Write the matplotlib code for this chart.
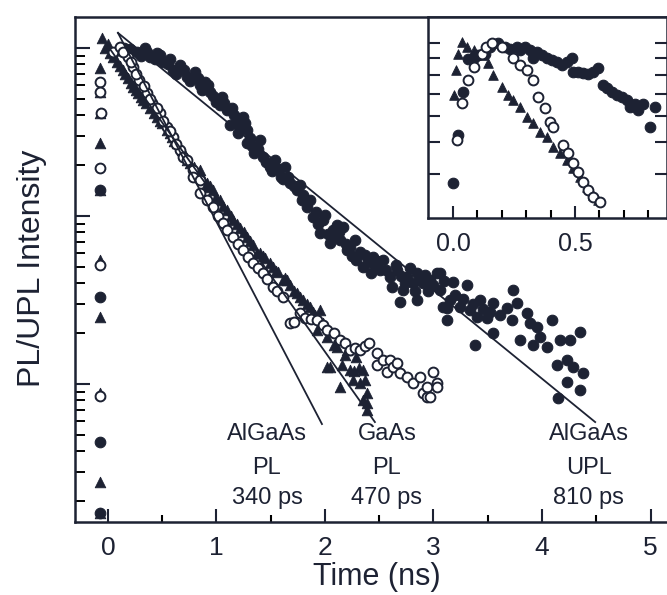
import matplotlib
matplotlib.use("Agg")
import matplotlib.pyplot as plt
from matplotlib.ticker import NullFormatter, FixedLocator, LogLocator

plt.rcParams['font.family'] = ['Liberation Sans', 'DejaVu Sans']

INK = '#1d2233'

# ---------------- main panel data: (time ns, normalized intensity) ----------------
upl_filled = [
    (-0.07, 0.143), (-0.07, 0.033), (-0.07, 0.0045), (-0.07, 0.0017),
    (0.05, 0.93), (0.10, 0.97), (0.15, 1.0), (0.20, 0.98),
    (0.27, 0.946), (0.34, 1.0), (0.39, 0.884), (0.48, 0.908), (0.51, 0.826),
    (0.60, 0.740), (0.66, 0.792), (0.73, 0.672), (0.80, 0.720), (0.85, 0.602),
    (0.89, 0.628), (0.94, 0.547), (1.00, 0.477), (1.05, 0.511), (1.10, 0.428),
    (1.12, 0.348), (1.14, 0.44), (1.19, 0.373), (1.20, 0.312), (1.24, 0.388),
    (1.28, 0.325), (1.28, 0.272), (1.35, 0.237), (1.40, 0.283), (1.43, 0.224),
    (1.49, 0.196), (1.54, 0.216), (1.59, 0.171), (1.63, 0.196), (1.68, 0.157),
    (1.74, 0.143), (1.77, 0.153), (1.80, 0.133), (1.83, 0.113), (1.86, 0.124),
    (1.89, 0.0986), (1.95, 0.0792), (1.98, 0.0946), (2.00, 0.101), (2.05, 0.0691),
    (2.07, 0.0826), (2.11, 0.0884), (2.14, 0.0720), (2.17, 0.0861), (2.20, 0.0628),
    (2.23, 0.0654), (2.28, 0.0720), (2.29, 0.0547), (2.35, 0.0497), (2.37, 0.0586),
    (2.44, 0.0570), (2.46, 0.0511), (2.51, 0.0477), (2.53, 0.0547), (2.60, 0.0433),
    (2.65, 0.0511), (2.66, 0.0477), (2.69, 0.0308), (2.72, 0.0363), (2.76, 0.0433),
    (2.78, 0.049), (2.81, 0.0399), (2.85, 0.0458), (2.85, 0.0316), (2.90, 0.0399),
    (2.92, 0.0446), (2.97, 0.0416), (3.03, 0.0458), (3.06, 0.0363), (3.06, 0.0458),
    (3.09, 0.0287), (3.12, 0.0240), (3.12, 0.0283), (3.15, 0.0316), (3.18, 0.0405),
    (3.24, 0.0287), (3.31, 0.0388), (3.34, 0.0276), (3.38, 0.0171), (3.40, 0.0251),
    (3.43, 0.0316), (3.49, 0.0247), (3.55, 0.0303), (3.55, 0.0201), (3.61, 0.0257),
    (3.68, 0.0283), (3.72, 0.0240), (3.73, 0.0363), (3.77, 0.0303), (3.80, 0.0183),
    (3.86, 0.0265), (3.89, 0.0231), (3.92, 0.0171), (3.95, 0.0218), (3.98, 0.0190),
    (4.05, 0.0166), (4.09, 0.0240), (4.14, 0.0130), (4.15, 0.00826), (4.17, 0.0183),
    (4.23, 0.0139), (4.23, 0.0103), (4.26, 0.0183), (4.29, 0.0126), (4.35, 0.0204),
    (4.35, 0.0092), (4.38, 0.0116),
    # band thickness
    (0.30, 0.90), (0.36, 0.95), (0.43, 0.86), (0.45, 0.93), (0.55, 0.80),
    (0.57, 0.86), (0.63, 0.70), (0.70, 0.74), (0.76, 0.64), (0.83, 0.66),
    (0.87, 0.56), (0.92, 0.60), (0.97, 0.52), (1.03, 0.46), (1.07, 0.47),
    (1.16, 0.40), (1.22, 0.34), (1.26, 0.36), (1.31, 0.29), (1.33, 0.26),
    (1.38, 0.25), (1.46, 0.21), (1.51, 0.185), (1.57, 0.19), (1.61, 0.165),
    (1.66, 0.17), (1.71, 0.15), (1.79, 0.125), (1.92, 0.105), (1.94, 0.09),
    (2.03, 0.078), (2.09, 0.075), (2.13, 0.08), (2.19, 0.068), (2.25, 0.058),
    (2.32, 0.061), (2.40, 0.053), (2.42, 0.046), (2.48, 0.054), (2.56, 0.048),
    (2.62, 0.038), (2.70, 0.044), (2.74, 0.04), (2.83, 0.036), (2.88, 0.043),
    (2.95, 0.036), (3.00, 0.039), (3.10, 0.041), (3.20, 0.034), (3.27, 0.032),
    (3.36, 0.03), (3.46, 0.028), (3.52, 0.027),
]

pl_open = [
    (-0.07, 0.63), (-0.07, 0.55), (-0.06, 0.41), (-0.07, 0.193), (-0.07, 0.051),
    (-0.07, 0.0085),
    (0.05, 0.95), (0.11, 1.01), (0.18, 0.884), (0.23, 0.771), (0.29, 0.645),
    (0.36, 0.540), (0.41, 0.471), (0.48, 0.410), (0.54, 0.339), (0.60, 0.295),
    (0.66, 0.247), (0.69, 0.224), (0.73, 0.216), (0.78, 0.188), (0.78, 0.171),
    (0.85, 0.164), (0.85, 0.137), (0.91, 0.125), (0.97, 0.113), (1.01, 0.100),
    (1.06, 0.0908), (1.10, 0.083), (1.15, 0.0750), (1.20, 0.068), (1.24, 0.0628),
    (1.29, 0.057), (1.34, 0.0525), (1.38, 0.049), (1.43, 0.0458), (1.47, 0.042),
    (1.52, 0.0378), (1.56, 0.036), (1.61, 0.0330), (1.68, 0.0231), (1.71, 0.0234),
    (1.77, 0.0265), (1.82, 0.0247), (1.87, 0.0245), (1.93, 0.0240), (1.98, 0.0225),
    (2.02, 0.0210), (2.08, 0.020), (2.14, 0.0183), (2.18, 0.0175), (2.23, 0.0159),
    (2.28, 0.0165), (2.32, 0.0159), (2.37, 0.0168), (2.41, 0.0175), (2.48, 0.0153),
    (2.48, 0.0130), (2.53, 0.0139), (2.57, 0.0118), (2.60, 0.0139), (2.63, 0.0126),
    (2.66, 0.0133), (2.69, 0.0116), (2.76, 0.0110), (2.81, 0.0101), (2.88, 0.0110),
    (2.90, 0.00883), (2.94, 0.0096), (2.94, 0.00837), (2.97, 0.00837),
    (3.00, 0.0118), (3.03, 0.0101), (3.03, 0.0096),
    (0.14, 0.95), (0.21, 0.82), (0.26, 0.70), (0.33, 0.59), (0.39, 0.50),
    (0.45, 0.44), (0.51, 0.37), (0.57, 0.32), (0.63, 0.27),
]

pl_tri = [
    (-0.07, 0.76), (-0.07, 0.55), (-0.07, 0.41), (-0.07, 0.272), (-0.07, 0.143),
    (-0.07, 0.0547), (-0.07, 0.025), (-0.07, 0.0088), (-0.07, 0.0026),
    (-0.075, 0.0017),
    (-0.055, 1.15), (-0.03, 1.0), (0.0, 1.05), (0.02, 0.933), (0.08, 0.826),
    (0.14, 0.740), (0.18, 0.663), (0.23, 0.586), (0.28, 0.540), (0.32, 0.490),
    (0.39, 0.44), (0.45, 0.388), (0.50, 0.358), (0.54, 0.325), (0.59, 0.295),
    (0.64, 0.272), (0.68, 0.247), (0.73, 0.216), (0.76, 0.207), (0.82, 0.180),
    (0.85, 0.188), (0.91, 0.149), (0.91, 0.157), (0.97, 0.143), (1.03, 0.124),
    (1.10, 0.109), (1.15, 0.0946), (1.22, 0.0849), (1.28, 0.0750), (1.34, 0.0672),
    (1.37, 0.0602), (1.40, 0.0602), (1.45, 0.0562), (1.49, 0.0525), (1.52, 0.0497),
    (1.57, 0.0464), (1.61, 0.0416), (1.65, 0.0416), (1.68, 0.0388), (1.74, 0.0348),
    (1.80, 0.0316), (1.86, 0.0287), (1.91, 0.0257), (1.93, 0.0210), (1.95, 0.0276),
    (2.02, 0.0190), (2.02, 0.0126), (2.05, 0.0126), (2.11, 0.0166), (2.14, 0.0096),
    (2.18, 0.0149), (2.23, 0.0121), (2.26, 0.0106), (2.29, 0.0145), (2.32, 0.0101),
    (2.35, 0.0121), (2.35, 0.00803), (2.39, 0.00883), (2.39, 0.00771),
    (2.39, 0.00700),
    (0.05, 0.88), (0.11, 0.78), (0.16, 0.70), (0.21, 0.62), (0.26, 0.56),
    (0.30, 0.51), (0.35, 0.47), (0.42, 0.41), (0.48, 0.37), (0.57, 0.31),
    (0.61, 0.28), (0.71, 0.23), (0.79, 0.195), (0.88, 0.165), (0.94, 0.15),
    (1.00, 0.13), (1.06, 0.115), (1.13, 0.10), (1.19, 0.09), (1.25, 0.08),
    (1.31, 0.071), (1.43, 0.058), (1.55, 0.047), (1.63, 0.043), (1.71, 0.036),
    (1.77, 0.033), (1.83, 0.030), (1.89, 0.027), (1.98, 0.023), (2.08, 0.017),
    (2.16, 0.013), (2.20, 0.016), (2.27, 0.012), (2.31, 0.0125), (2.37, 0.0105),
]

# fitted single-exponential lines: (t_start, I_start, t_end, I_end)
fit_lines = {
    'AlGaAs PL 340 ps': (0.092, 1.23, 1.972, 0.00578),
    'GaAs PL 470 ps': (-0.055, 1.15, 2.46, 0.00594),
    'AlGaAs UPL 810 ps': (0.092, 1.23, 4.49, 0.00594),
}

# annotation labels (three lines each) and their anchor time
label_lines = [
    (1.465, ['AlGaAs', 'PL', '340 ps']),
    (2.57, ['GaAs', 'PL', '470 ps']),
    (4.43, ['AlGaAs', 'UPL', '810 ps']),
]
label_rows_I = [0.00504, 0.00316, 0.00210]

x_major = [0, 1, 2, 3, 4, 5]
x_minor = [0.5, 1.5, 2.5, 3.5, 4.5]

# ---------------- inset data ----------------
ins_filled = [
    (0.0, 0.376), (0.02, 0.526), (0.041, 0.712), (0.063, 0.892), (0.084, 0.899),
    (0.104, 0.920), (0.131, 0.930), (0.152, 0.975), (0.186, 1.0), (0.213, 0.975),
    (0.234, 0.963), (0.261, 0.975), (0.275, 0.952), (0.295, 0.975), (0.316, 0.952),
    (0.329, 0.899), (0.343, 0.941), (0.363, 0.920), (0.384, 0.899), (0.404, 0.888),
    (0.425, 0.878), (0.445, 0.858), (0.466, 0.878), (0.486, 0.899), (0.493, 0.819),
    (0.514, 0.819), (0.534, 0.813), (0.555, 0.805), (0.575, 0.819), (0.596, 0.838),
    (0.616, 0.746), (0.630, 0.729), (0.650, 0.712), (0.671, 0.696), (0.691, 0.688),
    (0.712, 0.672), (0.725, 0.641), (0.746, 0.656), (0.760, 0.627), (0.780, 0.656),
    (0.807, 0.558), (0.828, 0.641),
]
ins_open = [
    (0.015, 0.508), (0.036, 0.657), (0.063, 0.773), (0.084, 0.848), (0.117, 0.930),
    (0.137, 0.975), (0.158, 1.0), (0.199, 0.975), (0.247, 0.899), (0.275, 0.858),
    (0.302, 0.828), (0.329, 0.773), (0.350, 0.688), (0.377, 0.634), (0.398, 0.577),
    (0.411, 0.558), (0.452, 0.491), (0.473, 0.463), (0.493, 0.432), (0.514, 0.408),
    (0.534, 0.380), (0.555, 0.359), (0.575, 0.342), (0.602, 0.330),
]
ins_tri = [
    (0.003, 0.696), (0.012, 0.828), (0.022, 0.930), (0.036, 1.01), (0.057, 0.975),
    (0.084, 0.952), (0.117, 0.920), (0.145, 0.868), (0.163, 0.800), (0.199, 0.737),
    (0.227, 0.696), (0.247, 0.672), (0.275, 0.641), (0.302, 0.598), (0.329, 0.571),
    (0.357, 0.539), (0.384, 0.520), (0.411, 0.485), (0.439, 0.463), (0.466, 0.442),
    (0.493, 0.417), (0.520, 0.393), (0.548, 0.367), (0.575, 0.346), (0.596, 0.334),
]
ins_x_major = [0.0, 0.5]
ins_x_labels = ['0.0', '0.5']
ins_x_minor = [0.1, 0.2, 0.3, 0.4, 0.6, 0.7, 0.8]
ins_y_ticks = [0.4, 0.5, 0.6, 0.7, 0.8, 0.9, 1.0]


def split(pairs):
    return [p[0] for p in pairs], [p[1] for p in pairs]


W, H = 667, 595
fig = plt.figure(figsize=(W / 100, H / 100), dpi=100)
fig.patch.set_facecolor('white')

# main axes: left spine x=75, top y=17, bottom y=522, extends to right edge
ax = fig.add_axes([75 / W, 1 - 522 / H, 1 - 75 / W, (522 - 17) / H])
ax.set_yscale('log')
ax.set_xlim(-0.304, 5.152)
ax.set_ylim(0.00151, 1.529)

ms_s = 58
t, v = split(upl_filled)
ax.scatter(t, v, s=ms_s, marker='o', facecolor=INK, edgecolor=INK, linewidths=0.8, zorder=3)
t, v = split(pl_tri)
ax.scatter(t, v, s=ms_s, marker='^', facecolor=INK, edgecolor=INK, linewidths=0.6, zorder=3)
t, v = split(pl_open)
ax.scatter(t, v, s=ms_s - 8, marker='o', facecolor='white', edgecolor=INK, linewidths=1.4, zorder=4)

for name, (t0, i0, t1, i1) in fit_lines.items():
    ax.plot([t0, t1], [i0, i1], color=INK, lw=1.3, zorder=5)

for tx, lines in label_lines:
    for line, yi in zip(lines, label_rows_I):
        ax.text(tx, yi, line, ha='center', va='center', fontsize=17, color=INK, zorder=6)

ax.xaxis.set_major_locator(FixedLocator(x_major))
ax.xaxis.set_minor_locator(FixedLocator(x_minor))
ax.set_xticklabels([str(x) for x in x_major])
ax.yaxis.set_major_locator(LogLocator(base=10, numticks=10))
ax.yaxis.set_minor_locator(LogLocator(base=10, subs=[2, 3, 4, 5, 6, 7, 8, 9], numticks=20))
ax.yaxis.set_major_formatter(NullFormatter())
ax.yaxis.set_minor_formatter(NullFormatter())

ax.tick_params(axis='x', which='major', direction='in', length=9.5, width=1.5,
               labelsize=19, pad=10, colors=INK, top=False)
ax.tick_params(axis='x', which='minor', direction='in', length=5, width=1.5, top=False)
ax.tick_params(axis='y', which='major', direction='in', length=11, width=1.5,
               right=False, colors=INK)
ax.tick_params(axis='y', which='minor', direction='in', length=7, width=1.4, right=False)
for sp in ['left', 'bottom', 'top']:
    ax.spines[sp].set_linewidth(1.8)
    ax.spines[sp].set_color(INK)
ax.spines['right'].set_visible(False)

fig.text(32 / W, 1 - 268 / H, 'PL/UPL Intensity', rotation=90, ha='center', va='center',
         fontsize=23, color=INK)
fig.text(377 / W, 1 - 577 / H, 'Time (ns)', ha='center', va='center', fontsize=22, color=INK)

# inset: x 428..667, y 17..218
axi = fig.add_axes([428 / W, 1 - 218 / H, (667 - 428) / W, (218 - 17) / H])
axi.set_facecolor('white')
axi.set_zorder(10)
axi.set_yscale('log')
axi.set_xlim(-0.1025, 0.877)
axi.set_ylim(0.295, 1.20)

t, v = split(ins_filled)
axi.scatter(t, v, s=ms_s, marker='o', facecolor=INK, edgecolor=INK, linewidths=0.8, zorder=3)
t, v = split(ins_tri)
axi.scatter(t, v, s=ms_s - 10, marker='^', facecolor=INK, edgecolor=INK, linewidths=0.6, zorder=3)
t, v = split(ins_open)
axi.scatter(t, v, s=ms_s - 8, marker='o', facecolor='white', edgecolor=INK, linewidths=1.4, zorder=4)

axi.xaxis.set_major_locator(FixedLocator(ins_x_major))
axi.xaxis.set_minor_locator(FixedLocator(ins_x_minor))
axi.set_xticklabels(ins_x_labels)
axi.yaxis.set_major_locator(FixedLocator(ins_y_ticks))
axi.yaxis.set_minor_locator(FixedLocator([]))
axi.yaxis.set_major_formatter(NullFormatter())
axi.tick_params(axis='x', which='major', direction='in', length=9, width=1.5,
                labelsize=18, pad=10, colors=INK, top=False)
axi.tick_params(axis='x', which='minor', direction='in', length=5.5, width=1.5, top=False)
axi.tick_params(axis='y', which='major', direction='in', length=8.5, width=1.5,
                left=True, right=True, colors=INK)
for sp in axi.spines.values():
    sp.set_linewidth(1.8)
    sp.set_color(INK)

fig.savefig('out.png', dpi=100, facecolor='white')
